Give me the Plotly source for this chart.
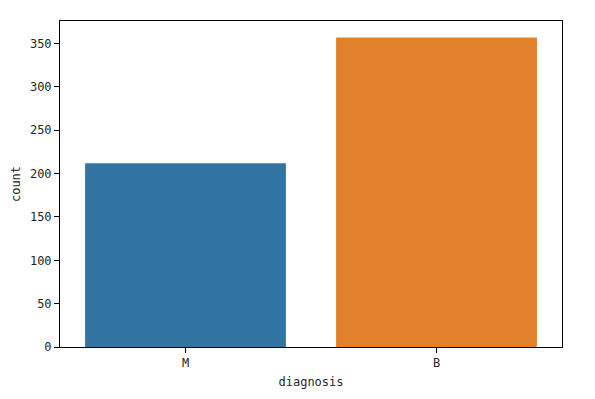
import plotly.graph_objects as go

categories = ["M", "B"]
counts = [212, 357]
colors = ["#3274a1", "#e1812c"]
y_ticks = [0, 50, 100, 150, 200, 250, 300, 350]

font_family = "DejaVu Sans Mono, Liberation Mono, monospace"

fig = go.Figure(go.Bar(
    x=[0, 1], y=counts, marker=dict(color=colors, line=dict(width=0)),
    width=0.8,
))
fig.update_layout(
    width=595, height=399,
    margin=dict(l=60, r=33, t=21, b=50),
    paper_bgcolor="white", plot_bgcolor="white",
    font=dict(family=font_family, size=12, color="#262626"),
    showlegend=False,
)
fig.update_xaxes(
    range=[-0.5, 1.5], tickvals=[0, 1], ticktext=categories,
    showline=True, linecolor="black", linewidth=1, mirror=True,
    ticks="outside", ticklen=5, tickcolor="black", showgrid=False,
    zeroline=False,
    title=dict(text="diagnosis", standoff=8, font=dict(size=12)),
)
fig.update_yaxes(
    range=[0, 376], tickvals=y_ticks,
    showline=True, linecolor="black", linewidth=1, mirror=True,
    ticks="outside", ticklen=5, tickcolor="black", showgrid=False,
    zeroline=False,
    title=dict(text="count", standoff=6, font=dict(size=12)),
)
fig.write_html("out.html")
